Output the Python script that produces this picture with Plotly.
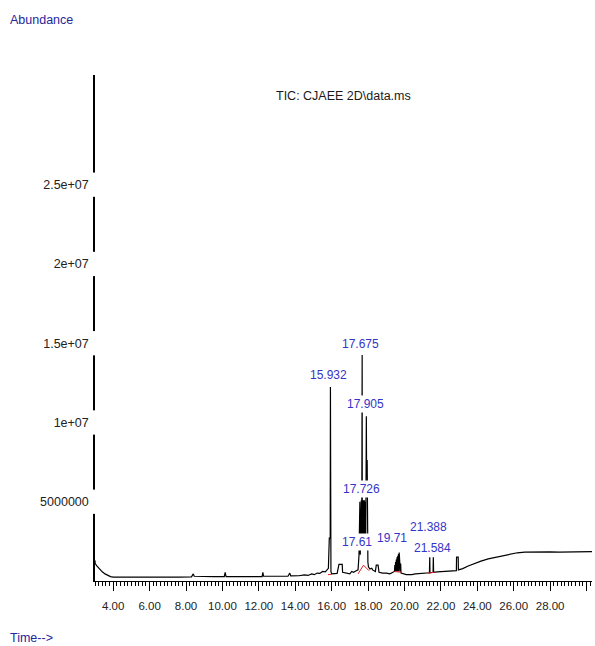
import plotly.graph_objects as go

# ---------------- data ----------------
tic_time = [
    3.00, 3.01, 3.10, 3.25, 3.40, 3.55, 3.70, 3.85, 4.00, 5.00, 5.60, 6.40,
    7.00, 7.60, 8.30, 8.40, 8.45, 8.80, 9.50, 10.10, 10.15, 10.20, 11.00,
    11.80, 12.18, 12.22, 12.26, 13.00, 13.60, 13.70, 13.75, 14.20, 14.50,
    14.70, 14.90, 15.05, 15.20, 15.35, 15.50, 15.65, 15.75, 15.82, 15.87,
    15.88, 15.92, 15.932, 15.945, 15.96, 16.00, 16.30, 16.40, 16.58, 16.60,
    16.90, 17.00, 17.10, 17.20, 17.35, 17.45, 17.50, 17.55, 17.57,
    17.59, 17.61, 17.63, 17.65, 17.66, 17.675, 17.68, 17.69, 17.70, 17.71,
    17.72, 17.726, 17.73, 17.74, 17.75, 17.76, 17.77, 17.78, 17.79, 17.80,
    17.81, 17.82, 17.83, 17.84, 17.85, 17.86, 17.87, 17.88, 17.89, 17.905,
    17.915, 17.95, 17.96, 17.99, 18.02, 18.10, 18.20, 18.25, 18.40, 18.45,
    18.55, 18.60, 18.80, 19.00, 19.20, 19.40,
    19.45, 19.47, 19.49, 19.51, 19.53, 19.55, 19.57, 19.59, 19.61, 19.63,
    19.65, 19.67, 19.69, 19.71, 19.73, 19.75, 19.77, 19.79, 19.81,
    20.10, 20.40, 20.60, 20.80, 21.00, 21.30, 21.37, 21.388, 21.40, 21.57,
    21.584, 21.60, 21.80, 22.20, 22.50, 22.85, 22.86, 22.95, 22.96, 23.20,
    23.50, 23.80, 24.20, 24.60, 25.00, 25.40, 25.80, 26.20, 26.60, 27.00,
    27.50, 28.00, 28.50, 29.00, 29.50, 30.30,
]
tic_abund = [
    1.30e6, 1.10e6, 0.95e6, 0.75e6, 0.58e6, 0.45e6, 0.35e6, 0.28e6, 0.25e6, 0.24e6, 0.25e6, 0.25e6,
    0.26e6, 0.25e6, 0.26e6, 0.45e6, 0.30e6, 0.28e6, 0.27e6, 0.28e6, 0.55e6, 0.28e6, 0.27e6,
    0.28e6, 0.28e6, 0.55e6, 0.30e6, 0.30e6, 0.30e6, 0.50e6, 0.32e6, 0.33e6, 0.38e6,
    0.35e6, 0.45e6, 0.40e6, 0.50e6, 0.48e6, 0.60e6, 0.58e6, 0.75e6, 0.80e6, 2.70e6,
    2.70e6, 2.70e6, 12.24e6, 2.00e6, 0.60e6, 0.45e6, 0.48e6, 1.05e6, 1.05e6, 0.55e6,
    0.50e6, 0.45e6, 0.60e6, 0.55e6, 0.65e6, 0.70e6, 1.60e6, 5.00e6, 1.65e6,
    5.10e6, 1.70e6, 5.10e6, 2.00e6, 5.10e6, 14.26e6, 5.10e6, 2.00e6, 5.10e6, 2.00e6,
    5.10e6, 5.10e6, 2.00e6, 5.10e6, 2.00e6, 5.10e6, 2.00e6, 5.10e6, 2.00e6, 5.10e6,
    2.00e6, 5.00e6, 2.00e6, 5.00e6, 2.00e6, 5.00e6, 2.00e6, 5.10e6, 5.10e6, 10.40e6,
    7.60e6, 7.60e6, 1.60e6, 1.20e6, 0.90e6, 0.75e6, 0.80e6, 0.70e6, 0.60e6, 1.00e6,
    1.00e6, 0.55e6, 0.50e6, 0.50e6, 0.45e6, 0.55e6,
    0.60e6, 1.00e6, 0.60e6, 1.20e6, 0.60e6, 1.35e6, 0.60e6, 1.50e6, 0.60e6, 1.60e6,
    0.60e6, 1.70e6, 0.60e6, 1.80e6, 0.60e6, 1.50e6, 0.60e6, 1.10e6, 0.50e6,
    0.40e6, 0.40e6, 0.45e6, 0.48e6, 0.50e6, 0.52e6, 0.52e6, 1.50e6, 0.52e6, 0.55e6,
    1.50e6, 0.55e6, 0.58e6, 0.60e6, 0.62e6, 0.65e6, 1.50e6, 1.50e6, 0.70e6, 0.78e6,
    0.95e6, 1.10e6, 1.25e6, 1.40e6, 1.50e6, 1.62e6, 1.72e6, 1.78e6, 1.82e6, 1.83e6,
    1.82e6, 1.84e6, 1.82e6, 1.84e6, 1.83e6, 1.85e6,
]

# integration baselines (red), None separates segments
base_time = [15.80, 16.00, None, 17.45, 17.75, 18.05, None, 19.45, 19.85, None, 21.30, 21.65]
base_abund = [0.40e6, 0.42e6, None, 0.45e6, 1.00e6, 0.65e6, None, 0.60e6, 0.55e6, None, 0.50e6, 0.55e6]

# peak labels
peak_labels = ["15.932", "17.675", "17.905", "17.726", "17.61", "19.71", "21.388", "21.584"]
peak_times = [15.932, 17.675, 17.905, 17.726, 17.61, 19.71, 21.388, 21.584]
label_abund = [13.0e6, 14.95e6, 11.17e6, 5.8e6, 2.46e6, 2.71e6, 3.41e6, 2.08e6]
label_dx = [-2, -2, -1, -2, -4, -7, -1, -1]

x_tick_vals = [4, 6, 8, 10, 12, 14, 16, 18, 20, 22, 24, 26, 28, 30]
x_tick_text = ["4.00", "6.00", "8.00", "10.00", "12.00", "14.00", "16.00",
               "18.00", "20.00", "22.00", "24.00", "26.00", "28.00", ""]
y_tick_vals = [5e6, 1e7, 1.5e7, 2e7, 2.5e7]
y_tick_text = ["5000000", "1e+07", "1.5e+07", "2e+07", "2.5e+07"]

FONT = "Liberation Sans, Arial, sans-serif"
Y_MAX = 3.192e7

fig = go.Figure()
fig.add_trace(go.Scatter(x=tic_time, y=tic_abund, mode="lines",
                         line=dict(color="black", width=1.2), hoverinfo="skip"))
fig.add_trace(go.Scatter(x=base_time, y=base_abund, mode="lines",
                         line=dict(color="#e02020", width=1), hoverinfo="skip"))

annotations = []
for txt, t, a, dx in zip(peak_labels, peak_times, label_abund, label_dx):
    annotations.append(dict(x=t, y=a, xref="x", yref="y", text=txt, showarrow=False,
                            xanchor="center", yanchor="middle", xshift=dx,
                            bgcolor="white", borderpad=1,
                            font=dict(family=FONT, size=12, color="#3434c8")))
annotations += [
    dict(x=-0.175, y=1.109, xref="paper", yref="paper", text="Abundance", showarrow=False,
         xanchor="left", yanchor="middle", font=dict(family=FONT, size=12.5, color="#26269a")),
    dict(x=-0.175, y=-0.1126, xref="paper", yref="paper", text="Time-->", showarrow=False,
         xanchor="left", yanchor="middle", font=dict(family=FONT, size=12.5, color="#26269a")),
    dict(x=0.5, y=0.958, xref="paper", yref="paper", text="TIC: CJAEE 2D\\data.ms",
         showarrow=False, xanchor="center", yanchor="middle",
         font=dict(family=FONT, size=12.5, color="#1a1a1a")),
]

# gaps in the y-axis line behind each tick label
gap = 0.024 * Y_MAX
shapes = [dict(type="rect", xref="paper", yref="y", x0=-0.004, x1=0.005,
               y0=v - gap, y1=v + gap, fillcolor="white", line=dict(width=0),
               layer="above") for v in y_tick_vals]

fig.update_layout(
    width=595, height=646,
    margin=dict(l=95, r=3, t=75, b=65),
    paper_bgcolor="white", plot_bgcolor="white",
    showlegend=False,
    annotations=annotations,
    shapes=shapes,
    xaxis=dict(range=[3.0, 30.3], showgrid=False, zeroline=False,
               showline=True, linecolor="black", linewidth=1,
               ticks="outside", ticklen=9, tickwidth=1, tickcolor="black",
               tickmode="array", tickvals=x_tick_vals, ticktext=x_tick_text,
               ticklabelstandoff=5,
               tickfont=dict(family=FONT, size=11.5, color="#222222"),
               minor=dict(dtick=0.2, tick0=3.0, ticks="outside", ticklen=4,
                          tickwidth=1, tickcolor="black", showgrid=False)),
    yaxis=dict(range=[0, Y_MAX], showgrid=False, zeroline=False,
               showline=True, linecolor="black", linewidth=1.5,
               ticks="", tickmode="array", tickvals=y_tick_vals, ticktext=y_tick_text,
               ticklabelstandoff=2,
               tickfont=dict(family=FONT, size=12.5, color="#222222")),
)

fig.write_html("out.html")
